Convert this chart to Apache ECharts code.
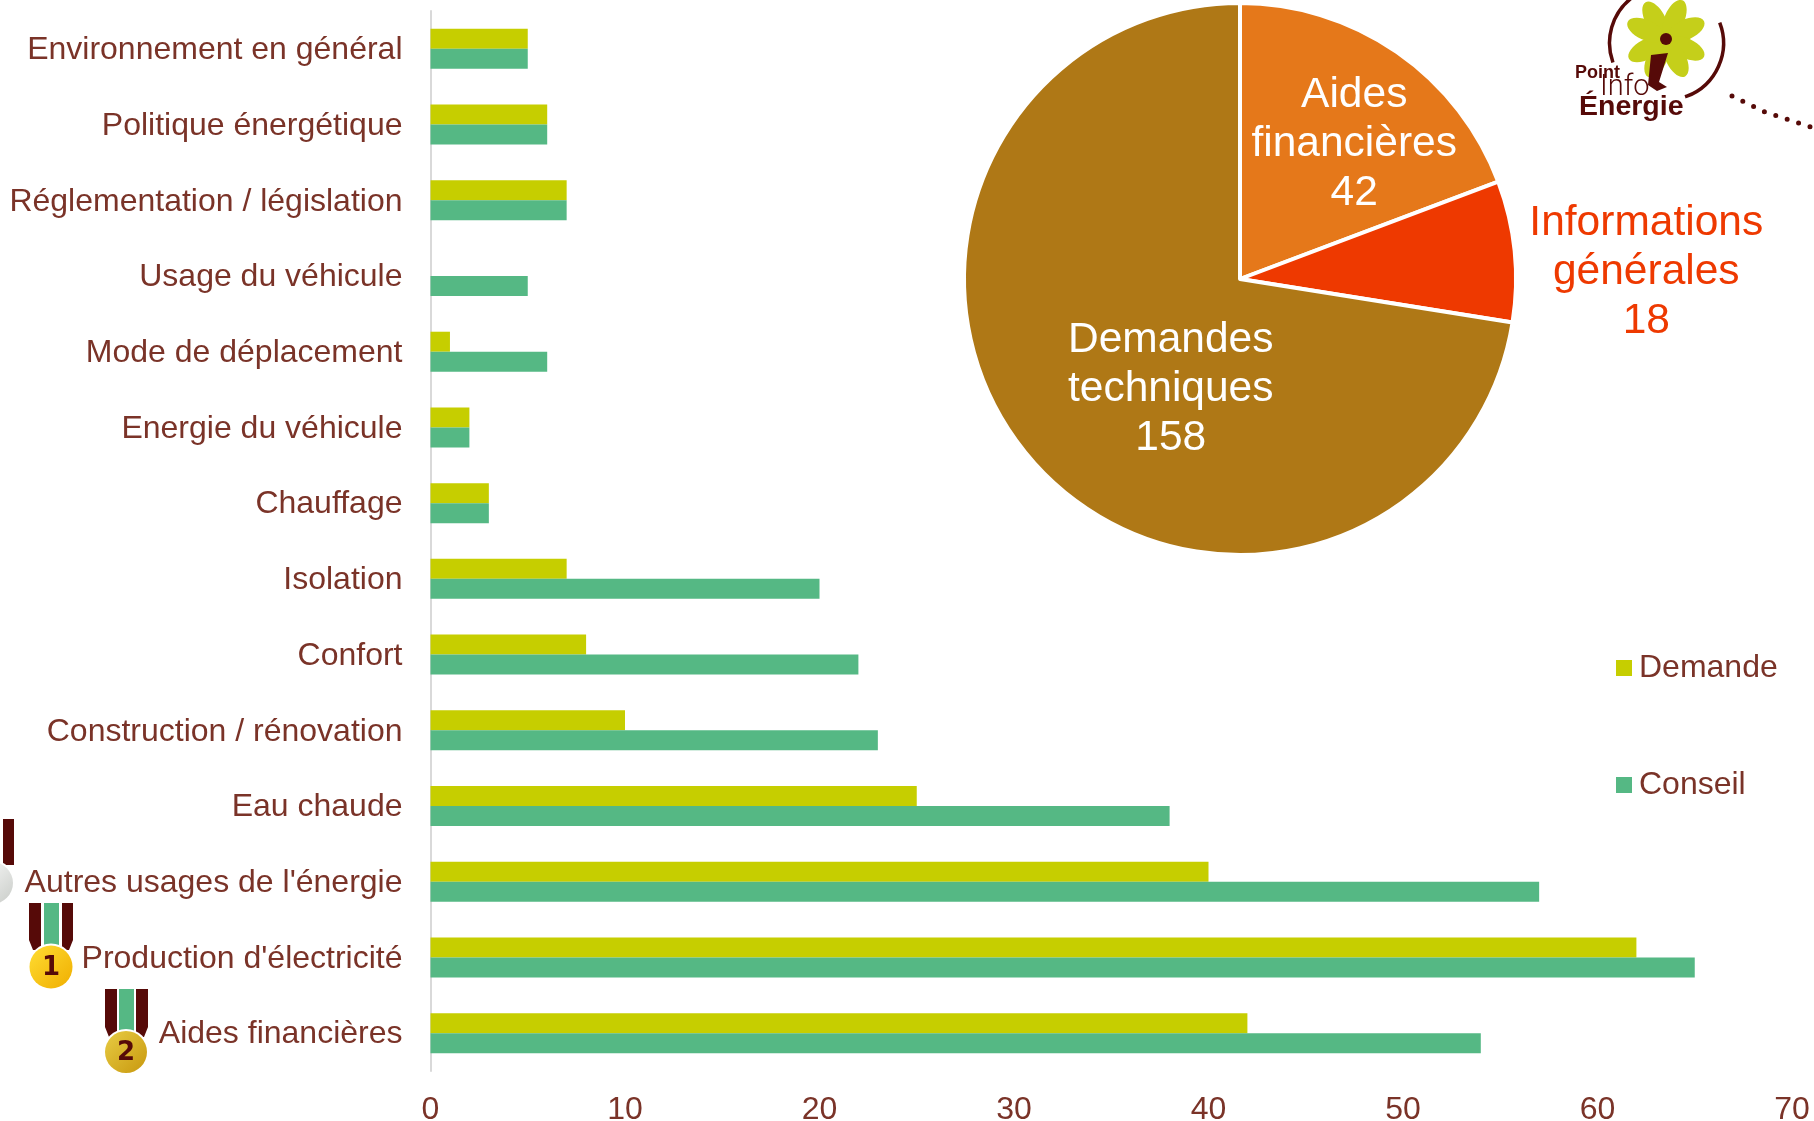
<!DOCTYPE html>
<html><head><meta charset="utf-8">
<style>html,body{margin:0;padding:0;background:#fff}#c{width:1814px;height:1121px}</style>
<script src="https://cdn.jsdelivr.net/npm/echarts@6/dist/echarts.min.js"></script>
</head><body><div id="c"></div>
<script>
const categories = ["Environnement en général","Politique énergétique","Réglementation / législation","Usage du véhicule","Mode de déplacement","Energie du véhicule","Chauffage","Isolation","Confort","Construction / rénovation","Eau chaude","Autres usages de l'énergie","Production d'électricité","Aides financières"];
const demande = [5,6,7,0,1,2,3,7,8,10,25,40,62,42];
const conseil = [5,6,7,5,6,2,3,20,22,23,38,57,65,54];
const pieNames = ["Aides\nfinancières","Informations\ngénérales","Demandes\ntechniques"];
const pieValues = [42,18,158];
const TXT='#7A3328', DARK='#560A08', YEL='#C6CE00', GRN='#55B884';
const FONT='"Liberation Sans", Arial, sans-serif';

function medal(x1,x2,x3,x4,x5,x6,top,bot,cx,cy,r,c1,c2,label){
  const out=[];
  out.push({type:'polygon',z:20,shape:{points:[[x1,top],[x2,top],[x2,bot],[x1+4,bot],[x1,bot-10]]},style:{fill:DARK}});
  out.push({type:'polygon',z:20,shape:{points:[[x5,top],[x6,top],[x6,bot-10],[x6-4,bot],[x5,bot]]},style:{fill:DARK}});
  if(x3!==null) out.push({type:'rect',z:20,shape:{x:x3,y:top,width:x4-x3,height:bot-top-4},style:{fill:GRN}});
  out.push({type:'circle',z:21,shape:{cx,cy,r:r+2},style:{fill:'#fff'}});
  out.push({type:'circle',z:22,shape:{cx,cy,r},style:{fill:new echarts.graphic.LinearGradient(0,0,1,1,[{offset:0,color:c1},{offset:1,color:c2}])}});
  if(label) out.push({type:'text',z:23,style:{x:cx,y:cy+1,text:label,align:'center',verticalAlign:'middle',fill:DARK,font:'bold 26px "DejaVu Sans"'}});
  return out;
}

const petalAngles=[-29,23,65,115,153,205,242,294];
const petals=petalAngles.map(d=>({type:'ellipse',z:20,x:1666,y:39,rotation:-d*Math.PI/180,
    shape:{cx:0,cy:-22,rx:10,ry:20},style:{fill:'#C5CF1A'}}));
const logo=[
 ...petals,
 {type:'arc',z:21,shape:{cx:1666.5,cy:43,r:57,startAngle:-21*Math.PI/180,endAngle:71*Math.PI/180,clockwise:true},style:{stroke:DARK,fill:null,lineWidth:3.5}},
 {type:'arc',z:21,shape:{cx:1666.5,cy:43,r:57,startAngle:160*Math.PI/180,endAngle:232*Math.PI/180,clockwise:true},style:{stroke:DARK,fill:null,lineWidth:3.5}},
 {type:'circle',z:22,shape:{cx:1666,cy:39,r:6},style:{fill:DARK}},
 {type:'polygon',z:22,shape:{points:[[1651,55],[1668,53],[1659,82],[1667,87],[1657,91],[1648,85]]},style:{fill:DARK}},
 {type:'text',z:22,style:{x:1575,y:82,text:'Point',verticalAlign:'bottom',fill:DARK,font:'bold 18px '+FONT}},
 {type:'text',z:22,style:{x:1600,y:102,text:'Info',verticalAlign:'bottom',fill:DARK,font:'300 29px Roboto'}},
 {type:'text',z:22,style:{x:1579,y:122,text:'Énergie',verticalAlign:'bottom',fill:DARK,font:'bold 28.5px '+FONT}},
 {type:'polyline',z:22,shape:{points:[[1732,96],[1765,112],[1814,128]]},style:{stroke:DARK,fill:null,lineWidth:5,lineCap:'round',lineDash:[0,12]}}
];

const graphics=[
 ...medal(3,14,null,null,3,14,819,865,-8,883,21,'#FFFFFF','#C9CCC8',''),
 ...medal(29,41,44,59,62,73,903,950,51,967,21.5,'#FFDD33','#F0AE00','1'),
 ...medal(105,117,119,134,136,148,989,1037,126,1052,21,'#E8CC44','#C8980E','2'),
 ...logo
];

const chart=echarts.init(document.getElementById('c'),null,{renderer:'canvas'});
chart.setOption({
 animation:false,
 textStyle:{fontFamily:FONT},
 grid:{left:430.5,top:11,width:1361.5,height:1060,containLabel:false,outerBoundsMode:'none'},
 legend:{orient:'vertical',left:1611,top:647,itemWidth:16,itemHeight:16,itemGap:85,icon:'rect',
   data:['Demande','Conseil'],textStyle:{color:TXT,fontSize:32,fontFamily:FONT,padding:[0,0,0,2]}},
 xAxis:{type:'value',min:0,max:70,interval:10,splitLine:{show:false},axisTick:{show:false},axisLine:{show:false},
   axisLabel:{color:TXT,fontSize:32,margin:23,fontFamily:FONT}},
 yAxis:{type:'category',inverse:true,data:categories,axisTick:{show:false},
   axisLine:{show:true,lineStyle:{color:'#D9D9D9',width:2}},
   axisLabel:{margin:28,formatter:v=>'{a|'+v+'}',rich:{a:{color:TXT,fontSize:32,fontFamily:FONT,padding:[3,0,0,0]}}}},
 series:[
  {type:'bar',name:'Demande',data:demande,barWidth:20,barGap:'0%',itemStyle:{color:YEL}},
  {type:'bar',name:'Conseil',data:conseil,barWidth:20,barGap:'0%',itemStyle:{color:GRN}},
  {type:'pie',center:[1240,279],radius:[0,276],startAngle:90,clockwise:true,z:5,
   itemStyle:{borderColor:'#fff',borderWidth:4},
   labelLine:{show:false},
   label:{position:'inside',color:'#fff',fontSize:42.5,lineHeight:49,fontFamily:FONT,formatter:p=>p.name+'\n'+p.value,align:'center'},
   data:[
    {name:pieNames[0],value:pieValues[0],itemStyle:{color:'#E5781A'},label:{offset:[34,-19]}},
    {name:pieNames[1],value:pieValues[1],itemStyle:{color:'#EE3900'},label:{color:'#EE3900',offset:[266,7]}},
    {name:pieNames[2],value:pieValues[2],itemStyle:{color:'#AF7816'},label:{offset:[38,19]}}
   ]}
 ],
 graphic:graphics
});
</script></body></html>
